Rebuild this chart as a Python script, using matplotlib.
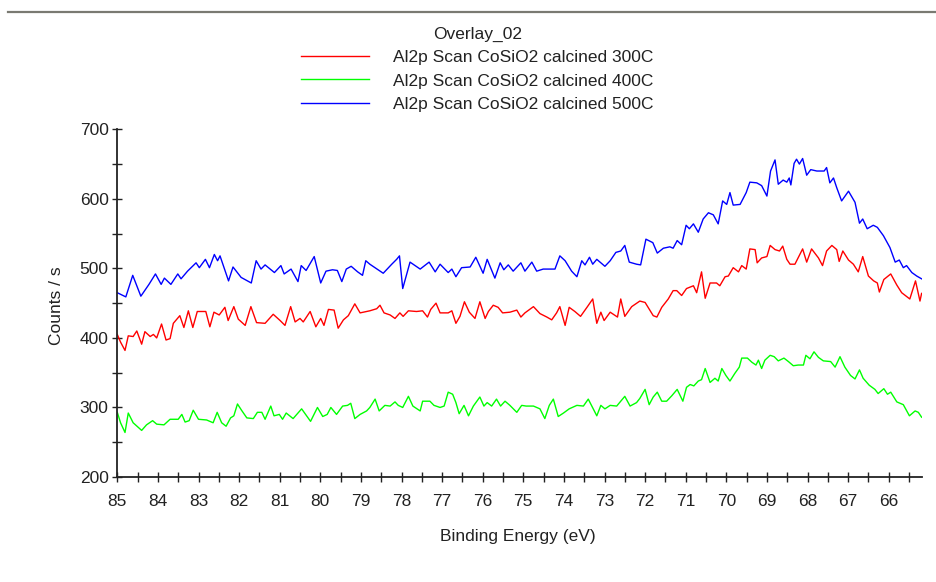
import matplotlib
matplotlib.use("Agg")
import matplotlib.pyplot as plt
from matplotlib.lines import Line2D
from matplotlib.ticker import MultipleLocator

plt.rcParams['font.family'] = ['Liberation Sans', 'DejaVu Sans']

# ---- data ----
x_500 = [85.0, 84.79, 84.62, 84.42, 84.22, 84.06, 83.92, 83.84, 83.68, 83.51, 83.43, 83.27,
         83.06, 82.98, 82.83, 82.73, 82.61, 82.53, 82.47, 82.26, 82.15, 81.95, 81.70, 81.58,
         81.46, 81.36, 81.13, 80.97, 80.89, 80.72, 80.55, 80.47, 80.35, 80.27, 80.15, 79.99,
         79.86, 79.70, 79.58, 79.47, 79.36, 79.24, 79.08, 78.96, 78.88,
         78.78, 78.45, 78.24, 78.12, 78.05, 77.97, 77.79, 77.54, 77.32, 77.17, 77.05, 76.85,
         76.76, 76.66, 76.52, 76.31, 76.17, 75.99, 75.89, 75.70, 75.57, 75.48, 75.37, 75.25,
         75.06, 74.96, 74.79, 74.67, 74.51, 74.22, 74.10, 73.97, 73.81, 73.68, 73.56, 73.48,
         73.37, 73.29, 73.19, 72.99, 72.86, 72.72, 72.60, 72.50, 72.39, 72.21, 72.11, 71.98,
         71.88, 71.81, 71.70, 71.55, 71.39, 71.31, 71.21, 71.10, 70.99, 70.91, 70.81, 70.69,
         70.57, 70.44, 70.32, 70.20, 70.09, 69.99, 69.91, 69.83, 69.66, 69.51, 69.42, 69.25,
         69.13, 69.00, 68.91, 68.80, 68.72, 68.60, 68.51, 68.45, 68.41, 68.33, 68.27, 68.20,
         68.12, 68.02, 67.92, 67.77, 67.59, 67.53, 67.45, 67.36, 67.28, 67.16, 66.99, 66.83,
         66.72, 66.64, 66.53, 66.38, 66.28, 66.13, 65.97, 65.84, 65.74, 65.64, 65.56, 65.43,
         65.31, 65.19]
y_500 = [465, 459, 490, 460, 477, 492, 477, 486, 477, 492, 485, 496,
         508, 501, 513, 501, 520, 511, 518, 482, 502, 487, 479, 511,
         499, 505, 494, 504, 492, 499, 481, 504, 497, 505, 517, 479,
         496, 498, 497, 481, 499, 503, 495, 490, 511,
         506, 493, 506, 513, 518, 471, 509, 499, 509, 495, 506, 494,
         499, 488, 501, 502, 516, 493, 513, 486, 508, 498, 505, 496,
         508, 496, 509, 496, 499, 499, 518, 511, 496, 488, 511, 505,
         516, 506, 513, 503, 511, 523, 525, 533, 509, 506, 505, 542,
         539, 537, 522, 529, 531, 529, 540, 534, 562, 557, 564, 552,
         571, 580, 577, 564, 597, 592, 609, 591, 592, 609, 624, 623,
         619, 604, 640, 656, 621, 627, 624, 630, 620, 651, 657, 650,
         658, 634, 642, 640, 640, 645, 623, 630, 616, 597, 611, 595,
         565, 571, 557, 562, 559, 547, 530, 509, 512, 501, 504, 494,
         489, 485]

x_300 = [85.0, 84.92, 84.81, 84.73, 84.61, 84.52, 84.40, 84.32, 84.19, 84.11, 84.03, 83.91,
         83.80, 83.70, 83.62, 83.46, 83.36, 83.25, 83.14, 83.03, 82.82, 82.72, 82.62, 82.49,
         82.35, 82.27, 82.13, 82.02, 81.85, 81.71, 81.57, 81.36, 81.16, 80.99, 80.87, 80.73,
         80.62, 80.50, 80.42, 80.25, 80.11, 79.99, 79.91, 79.80, 79.66, 79.56, 79.43, 79.31,
         79.15, 79.02, 78.86,
         78.78, 78.61, 78.53, 78.43, 78.28, 78.16, 78.04, 77.96, 77.83, 77.63, 77.48, 77.36,
         77.28, 77.15, 77.05, 76.85, 76.76, 76.66, 76.56, 76.45, 76.33, 76.19, 76.07, 75.94,
         75.86, 75.74, 75.62, 75.51, 75.33, 75.16, 75.06, 74.96, 74.75, 74.59, 74.42, 74.30,
         74.18, 74.10, 73.97, 73.87, 73.73, 73.59, 73.42, 73.29, 73.19, 73.09, 73.01, 72.86,
         72.68, 72.60, 72.50, 72.33, 72.13, 72.00, 71.80, 71.71, 71.59, 71.43, 71.31, 71.22,
         71.10, 70.98, 70.81, 70.73, 70.61, 70.52, 70.40, 70.24, 70.16, 70.03, 69.95, 69.83,
         69.70, 69.62, 69.51, 69.42, 69.29, 69.24, 69.13, 69.00, 68.92, 68.80, 68.69, 68.61,
         68.51, 68.43, 68.31, 68.12, 68.02, 67.90, 67.73, 67.63, 67.53, 67.40, 67.28, 67.22,
         67.13, 66.99, 66.87, 66.75, 66.64, 66.50, 66.37, 66.28, 66.23, 66.12, 65.95, 65.80,
         65.68, 65.48, 65.34, 65.23, 65.19]
y_300 = [405, 394, 382, 403, 402, 410, 391, 409, 402, 405, 400, 420,
         397, 399, 421, 432, 415, 439, 415, 438, 438, 416, 437, 433,
         444, 425, 445, 427, 418, 445, 422, 421, 434, 425, 418, 445,
         423, 428, 423, 438, 416, 428, 418, 441, 440, 414, 426, 432,
         449, 436, 438,
         439, 442, 447, 436, 433, 428, 436, 431, 439, 438, 439, 430,
         441, 450, 436, 436, 439, 421, 431, 452, 437, 428, 452, 428,
         438, 447, 444, 436, 437, 440, 430, 436, 445, 435, 430, 426,
         436, 445, 418, 444, 438, 431, 445, 456, 421, 437, 425, 437,
         430, 456, 431, 445, 453, 451, 432, 430, 444, 456, 468, 468,
         461, 471, 475, 465, 495, 457, 479, 479, 475, 488, 489, 501,
         495, 504, 499, 528, 527, 508, 515, 517, 533, 527, 525, 532,
         513, 506, 506, 528, 509, 528, 515, 504, 525, 533, 527, 510,
         525, 512, 506, 495, 517, 489, 482, 479, 466, 484, 492, 476,
         465, 456, 482, 453, 464]

x_400 = [85.0, 84.92, 84.81, 84.73, 84.61, 84.40, 84.28, 84.13, 84.03, 83.85, 83.70, 83.50,
         83.41, 83.33, 83.23, 83.13, 83.00, 82.80, 82.64, 82.54, 82.43, 82.32, 82.21, 82.13,
         82.04, 81.94, 81.81, 81.65, 81.55, 81.44, 81.36, 81.22, 81.14, 81.01, 80.93, 80.84,
         80.67, 80.46, 80.35, 80.24, 80.07, 79.94, 79.83, 79.74, 79.60, 79.45, 79.33, 79.25,
         79.15, 79.02, 78.86,
         78.78, 78.65, 78.55, 78.41, 78.28, 78.16, 78.08, 77.97, 77.83, 77.72, 77.54, 77.48,
         77.30, 77.20, 77.05, 76.95, 76.85, 76.74, 76.66, 76.58, 76.46, 76.35, 76.23, 76.07,
         75.97, 75.89, 75.78, 75.66, 75.56, 75.45, 75.33, 75.16, 75.04, 74.93, 74.75, 74.59,
         74.47, 74.36, 74.26, 74.14, 74.01, 73.87, 73.68, 73.52, 73.40, 73.19, 73.09, 72.99,
         72.86, 72.70, 72.50, 72.37, 72.21, 72.13, 72.00, 71.90, 71.80, 71.70, 71.59, 71.47,
         71.34, 71.21, 71.07, 70.98, 70.89, 70.80, 70.69, 70.61, 70.52, 70.40, 70.28, 70.20,
         70.11, 70.01, 69.91, 69.79, 69.68, 69.62, 69.48, 69.37, 69.27, 69.21, 69.13, 69.05,
         68.92, 68.82, 68.72, 68.58, 68.47, 68.35, 68.23, 68.10, 68.04, 67.94, 67.84, 67.73,
         67.61, 67.43, 67.32, 67.20, 67.08, 66.94, 66.83, 66.72, 66.63, 66.48, 66.34, 66.26,
         66.12, 66.03, 65.95, 65.80, 65.64, 65.49, 65.35, 65.27, 65.19]
y_400 = [293, 278, 264, 292, 278, 267, 275, 281, 276, 275, 283, 283,
         290, 279, 281, 296, 283, 282, 278, 293, 278, 273, 285, 288,
         305, 296, 285, 284, 293, 293, 283, 302, 288, 290, 283, 292,
         284, 298, 289, 280, 300, 287, 290, 300, 290, 302, 303, 306,
         284, 290, 295,
         300, 312, 295, 303, 302, 308, 303, 300, 316, 302, 295, 309,
         309, 303, 300, 302, 322, 319, 307, 291, 303, 288, 302, 315,
         302, 307, 302, 312, 302, 309, 303, 293, 303, 302, 302, 298,
         284, 303, 312, 287, 292, 298, 303, 302, 312, 288, 303, 298,
         303, 302, 316, 302, 307, 313, 326, 304, 315, 322, 309, 309,
         317, 326, 309, 329, 333, 331, 338, 340, 356, 336, 342, 338,
         356, 346, 338, 349, 358, 371, 371, 365, 361, 368, 356, 368,
         375, 373, 367, 371, 366, 360, 361, 361, 375, 370, 380, 372,
         367, 366, 358, 373, 358, 346, 341, 354, 342, 332, 326, 320,
         327, 319, 322, 308, 304, 288, 295, 293, 286]

labels = ["Al2p Scan CoSiO2 calcined 300C",
          "Al2p Scan CoSiO2 calcined 400C",
          "Al2p Scan CoSiO2 calcined 500C"]
legend_title = "Overlay_02"
x_ticks = list(range(85, 65, -1))

# ---- figure ----
W, H = 937, 582
fig = plt.figure(figsize=(W / 100, H / 100), dpi=100)
fs = 12.5
ax = fig.add_axes([117.3 / W, 1 - 477 / H, (922 - 117.3) / W, (477 - 129.3) / H])

l1, = ax.plot(x_300, y_300, color='#ff0000', lw=1.0)
l2, = ax.plot(x_400, y_400, color='#00ff00', lw=1.0)
l3, = ax.plot(x_500, y_500, color='#0000ff', lw=1.0)

ax.set_xlim(85, 65.18)
ax.set_ylim(200, 700)
ax.set_xticks(x_ticks)
ax.set_xticklabels([str(t) for t in x_ticks])
ax.xaxis.set_minor_locator(MultipleLocator(0.5))
ax.yaxis.set_major_locator(MultipleLocator(100))
ax.yaxis.set_minor_locator(MultipleLocator(50))
for sp in ['top', 'right']:
    ax.spines[sp].set_visible(False)
for sp in ['left', 'bottom']:
    ax.spines[sp].set_linewidth(1.3)
    ax.spines[sp].set_color('#222222')
ax.tick_params(which='both', direction='inout', length=6.5, width=1.0,
               color='#222222', labelsize=fs, labelcolor='#222222')
ax.tick_params(axis='x', which='major', pad=9)
ax.tick_params(axis='y', which='major', pad=3)

fig.text(518 / W, 1 - 537 / H, "Binding Energy (eV)", ha='center', va='center',
         fontsize=fs, color='#222222')
fig.text(57 / W, 1 - 306 / H, "Counts / s", ha='center', va='center',
         rotation=90, fontsize=fs, color='#222222')

leg = fig.legend([l1, l2, l3], labels, title=legend_title, loc='upper center',
                 bbox_to_anchor=(477.5 / W, 1 - 15 / H), frameon=False,
                 fontsize=fs, title_fontsize=fs, handlelength=3.9,
                 handletextpad=1.38, labelspacing=0.46, borderpad=0.2)
for t in leg.get_texts():
    t.set_color('#222222')
leg.get_title().set_color('#222222')

# window border line at the top
fig.add_artist(Line2D([8 / W, 1.0], [1 - 12 / H, 1 - 12 / H], transform=fig.transFigure,
                      color='#7a7a72', lw=1.6))

fig.savefig("out.png", dpi=100)
